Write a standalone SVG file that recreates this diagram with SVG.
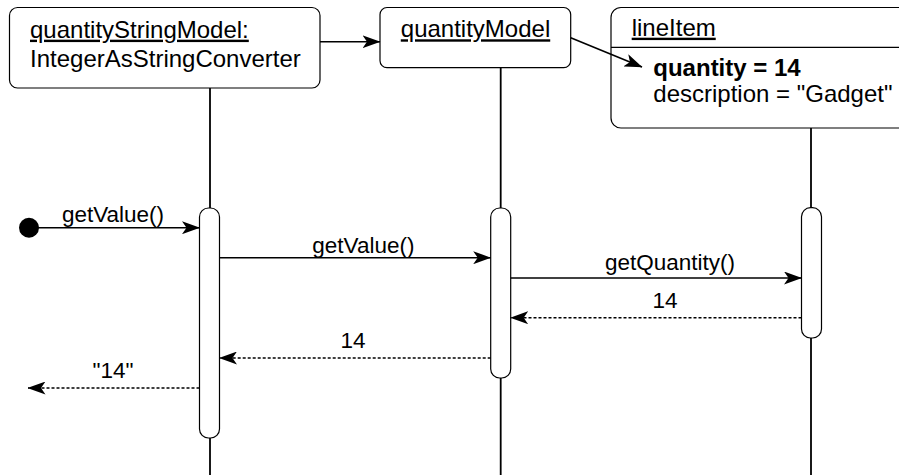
<svg xmlns="http://www.w3.org/2000/svg" width="899" height="475" viewBox="0 0 899 475">
<defs>
<marker id="arr" markerUnits="userSpaceOnUse" viewBox="0 0 18 13" markerWidth="18" markerHeight="13" refX="17.5" refY="6.5" orient="auto">
<path d="M0,0 L18,6.5 L0,13 L4.5,6.5 Z" fill="#000"/>
</marker>
<style>
text{font-family:"Liberation Sans",Arial,Helvetica,sans-serif;fill:#000}
.t{font-size:24px}
.l{font-size:22.5px;text-anchor:middle}
.box{fill:#fff;stroke:#000;stroke-width:1.2}
.life{stroke:#000;stroke-width:1.8;fill:none}
.act{fill:#fff;stroke:#000;stroke-width:1.2}
.msg{stroke:#000;stroke-width:1.6;fill:none;marker-end:url(#arr)}
.ret{stroke:#000;stroke-width:1.4;fill:none;stroke-dasharray:3 2;marker-end:url(#arr)}
</style>
</defs>
<rect width="899" height="475" fill="#fff"/>
<g id="lifelines">
<line class="life" x1="210" y1="88" x2="210" y2="475"/>
<line class="life" x1="500.7" y1="68" x2="500.7" y2="475"/>
<line class="life" x1="811" y1="128" x2="811" y2="475"/>
</g>
<g id="quantityStringModel">
<rect class="box" x="9.5" y="7.5" width="310.5" height="80.5" rx="8"/>
<text class="t" x="30" y="37.7" text-decoration="underline">quantityStringModel:</text>
<text class="t" x="30" y="66.7">IntegerAsStringConverter</text>
</g>
<g id="quantityModel">
<rect class="box" x="380" y="7.5" width="190.7" height="60.2" rx="7"/>
<text class="t" x="475.5" y="37.3" text-anchor="middle" text-decoration="underline">quantityModel</text>
</g>
<g id="lineItem">
<rect class="box" x="611" y="7.5" width="310" height="120.5" rx="10"/>
<line x1="611" y1="47.3" x2="899" y2="47.3" stroke="#000" stroke-width="1.2"/>
<text class="t" x="631.7" y="35.7" text-decoration="underline">lineItem</text>
<text class="t" x="653.3" y="75.7" font-weight="bold">quantity = 14</text>
<text class="t" x="653.3" y="102.3">description = "Gadget"</text>
</g>
<g id="activation1"><rect class="act" x="199.5" y="208" width="20" height="230" rx="9"/></g>
<g id="activation2"><rect class="act" x="490.7" y="208" width="20" height="170" rx="9"/></g>
<g id="activation3"><rect class="act" x="801.5" y="207.7" width="20" height="130.3" rx="9"/></g>
<g id="start"><circle cx="29" cy="227.7" r="10" fill="#000"/></g>
<g id="connectors">
<line class="msg" x1="320" y1="41.7" x2="380" y2="41.7"/>
<line class="msg" x1="570.7" y1="37.7" x2="642" y2="67"/>
<line class="msg" x1="29" y1="227.7" x2="199.5" y2="227.7"/>
<line class="msg" x1="219.5" y1="257.7" x2="490.7" y2="257.7"/>
<line class="msg" x1="510.7" y1="278" x2="801.5" y2="278"/>
<line class="ret" x1="801.5" y1="317.7" x2="510.7" y2="317.7"/>
<line class="ret" x1="490.7" y1="358" x2="219.5" y2="358"/>
<line class="ret" x1="199.5" y1="388" x2="28" y2="388"/>
</g>
<g id="labels">
<text class="l" x="113" y="222.3">getValue()</text>
<text class="l" x="363.4" y="253.3">getValue()</text>
<text class="l" x="670" y="270">getQuantity()</text>
<text class="l" x="665" y="308.3">14</text>
<text class="l" x="353" y="348.3">14</text>
<text class="l" x="113" y="378.3">"14"</text>
</g>
</svg>
